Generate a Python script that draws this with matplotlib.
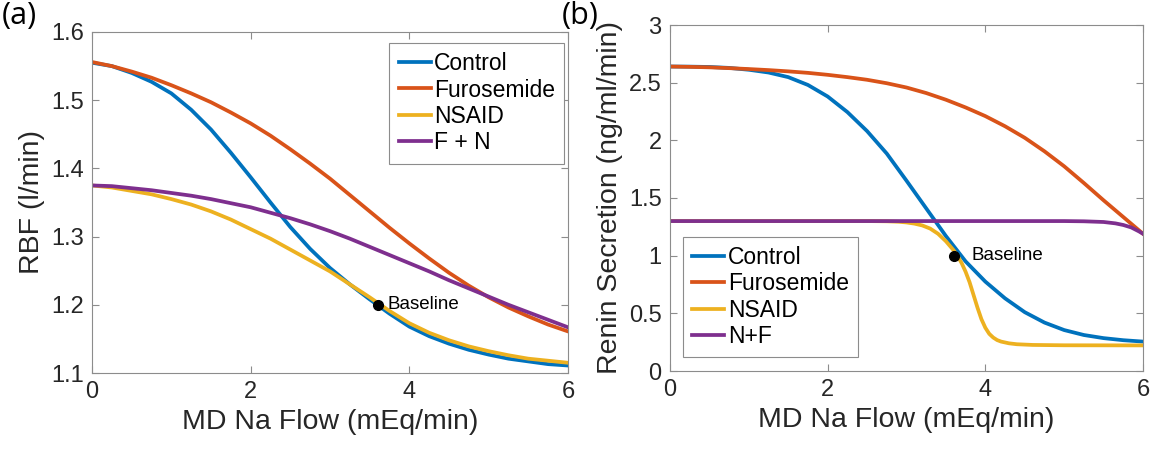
import numpy as np
import matplotlib
matplotlib.use('Agg')
import matplotlib.pyplot as plt

plt.rcParams['font.family'] = ['Liberation Sans', 'DejaVu Sans']

# MD Na flow grid (mEq/min) for the RBF panel
x_rbf = [0, 0.25, 0.5, 0.75, 1.0, 1.25, 1.5, 1.75, 2.0, 2.25, 2.5, 2.75, 3.0,
         3.25, 3.5, 3.75, 4.0, 4.25, 4.5, 4.75, 5.0, 5.25, 5.5, 5.75, 6.0]

# RBF (l/min)
rbf_control = [1.555, 1.550, 1.540, 1.527, 1.510, 1.486, 1.457, 1.423, 1.387, 1.350, 1.314, 1.282, 1.254,
               1.230, 1.208, 1.187, 1.168, 1.154, 1.143, 1.134, 1.127, 1.121, 1.117, 1.113, 1.111]
rbf_furosemide = [1.556, 1.550, 1.542, 1.533, 1.522, 1.510, 1.497, 1.482, 1.466, 1.448, 1.428, 1.407, 1.385,
                  1.361, 1.337, 1.313, 1.290, 1.268, 1.247, 1.228, 1.211, 1.196, 1.183, 1.171, 1.161]
rbf_nsaid = [1.375, 1.372, 1.367, 1.362, 1.355, 1.347, 1.337, 1.325, 1.311, 1.297, 1.281, 1.265, 1.249,
             1.230, 1.211, 1.191, 1.173, 1.159, 1.148, 1.139, 1.132, 1.126, 1.121, 1.118, 1.115]
rbf_fn = [1.375, 1.374, 1.371, 1.368, 1.364, 1.360, 1.355, 1.349, 1.343, 1.335, 1.327, 1.318, 1.308,
          1.297, 1.285, 1.273, 1.261, 1.249, 1.236, 1.224, 1.212, 1.200, 1.189, 1.178, 1.167]

# Renin secretion (ng/ml/min)
x_ren = [0, 0.25, 0.5, 0.75, 1.0, 1.25, 1.5, 1.75, 2.0, 2.25, 2.5, 2.75, 3.0,
         3.25, 3.5, 3.75, 4.0, 4.25, 4.5, 4.75, 5.0, 5.25, 5.5, 5.75, 6.0]
ren_control = [2.640, 2.639, 2.636, 2.628, 2.612, 2.588, 2.548, 2.480, 2.380, 2.245, 2.080, 1.885, 1.650,
               1.410, 1.170, 0.950, 0.775, 0.630, 0.510, 0.420, 0.355, 0.312, 0.285, 0.267, 0.255]
ren_furosemide = [2.640, 2.637, 2.633, 2.626, 2.618, 2.609, 2.598, 2.585, 2.568, 2.548, 2.525, 2.495, 2.458,
                  2.410, 2.352, 2.285, 2.210, 2.122, 2.022, 1.905, 1.775, 1.630, 1.480, 1.335, 1.190]

x_ren_nsaid = [0, 1.0, 2.0, 2.5, 2.75, 2.9, 3.0, 3.1, 3.2, 3.3, 3.4, 3.5, 3.55, 3.6, 3.65, 3.7, 3.75,
               3.8, 3.85, 3.9, 3.95, 4.0, 4.05, 4.1, 4.15, 4.2, 4.3, 4.4, 4.6, 5.0, 6.0]
ren_nsaid = [1.300, 1.300, 1.300, 1.300, 1.298, 1.294, 1.288, 1.278, 1.262, 1.235, 1.190, 1.125, 1.085,
             1.045, 0.995, 0.935, 0.860, 0.770, 0.660, 0.550, 0.450, 0.375, 0.322, 0.290, 0.268, 0.255,
             0.240, 0.232, 0.226, 0.223, 0.222]

x_ren_nf = [0, 1.0, 2.0, 3.0, 4.0, 5.0, 5.25, 5.5, 5.65, 5.75, 5.85, 5.95, 6.0]
ren_nf = [1.300, 1.300, 1.300, 1.300, 1.300, 1.300, 1.298, 1.292, 1.280, 1.266, 1.245, 1.210, 1.190]

baseline_x = 3.6
baseline_rbf = 1.2
baseline_renin = 1.0

colors = ['#0072BD', '#D95319', '#EDB120', '#7E2F8E']
lw = 2.7
tick_fs = 17
label_fs = 20.5

fig = plt.figure(figsize=(11.6, 4.51), dpi=100)

def style_axes(ax):
    for s in ax.spines.values():
        s.set_color('#8c8c8c')
        s.set_linewidth(0.8)
    ax.tick_params(direction='in', length=5, width=0.8, color='#8c8c8c',
                   top=True, right=True, labelsize=tick_fs, labelcolor='#262626', pad=6)

def style_legend(leg):
    leg.get_frame().set_edgecolor('#8c8c8c')
    leg.get_frame().set_linewidth(0.8)

leg_kw = dict(borderaxespad=0, fontsize=16.5, handlelength=1.4, handletextpad=0.15,
              labelspacing=0.15, borderpad=0.4, fancybox=False, framealpha=1)

# (a) RBF
ax1 = fig.add_axes([92/1160, 78/451, 476/1160, 341/451])
ax1.plot(x_rbf, rbf_control, color=colors[0], lw=lw, label='Control')
ax1.plot(x_rbf, rbf_furosemide, color=colors[1], lw=lw, label='Furosemide')
ax1.plot(x_rbf, rbf_nsaid, color=colors[2], lw=lw, label='NSAID')
ax1.plot(x_rbf, rbf_fn, color=colors[3], lw=lw, label='F + N')
ax1.plot(baseline_x, baseline_rbf, 'o', color='black', ms=7)
ax1.text(baseline_x + 0.12, baseline_rbf, 'Baseline', fontsize=13.5, va='center')
ax1.set_xlim(0, 6)
ax1.set_ylim(1.1, 1.6)
ax1.set_xticks([0, 2, 4, 6])
ax1.set_yticks([1.1, 1.2, 1.3, 1.4, 1.5, 1.6])
ax1.set_xlabel('MD Na Flow (mEq/min)', fontsize=label_fs, color='#262626')
ax1.set_ylabel('RBF (l/min)', fontsize=label_fs, color='#262626')
style_axes(ax1)
style_legend(ax1.legend(loc='upper right', bbox_to_anchor=(0.992, 0.968), **leg_kw))

# (b) Renin secretion
ax2 = fig.add_axes([670/1160, 80/451, 473/1160, 346/451])
ax2.plot(x_ren, ren_control, color=colors[0], lw=lw, label='Control')
ax2.plot(x_ren, ren_furosemide, color=colors[1], lw=lw, label='Furosemide')
ax2.plot(x_ren_nsaid, ren_nsaid, color=colors[2], lw=lw, label='NSAID')
ax2.plot(x_ren_nf, ren_nf, color=colors[3], lw=lw, label='N+F')
ax2.plot(baseline_x, baseline_renin, 'o', color='black', ms=7)
ax2.text(baseline_x + 0.22, baseline_renin, 'Baseline', fontsize=13.5, va='center')
ax2.set_xlim(0, 6)
ax2.set_ylim(0, 3)
ax2.set_xticks([0, 2, 4, 6])
ax2.set_yticks([0, 0.5, 1, 1.5, 2, 2.5, 3])
ax2.set_yticklabels(['0', '0.5', '1', '1.5', '2', '2.5', '3'])
ax2.set_xlabel('MD Na Flow (mEq/min)', fontsize=label_fs, color='#262626')
ax2.set_ylabel('Renin Secretion (ng/ml/min)', fontsize=label_fs, color='#262626')
style_axes(ax2)
style_legend(ax2.legend(loc='lower left', bbox_to_anchor=(0.0275, 0.04), **leg_kw))

# panel letters
fig.text(2/1160, 1 - 1/451, '(a)', fontsize=22, family=['Open Sans', 'DejaVu Sans'], va='top', ha='left')
fig.text(562/1160, 1 - 1/451, '(b)', fontsize=22, family=['Open Sans', 'DejaVu Sans'], va='top', ha='left')

fig.savefig('out.png', dpi=100)
